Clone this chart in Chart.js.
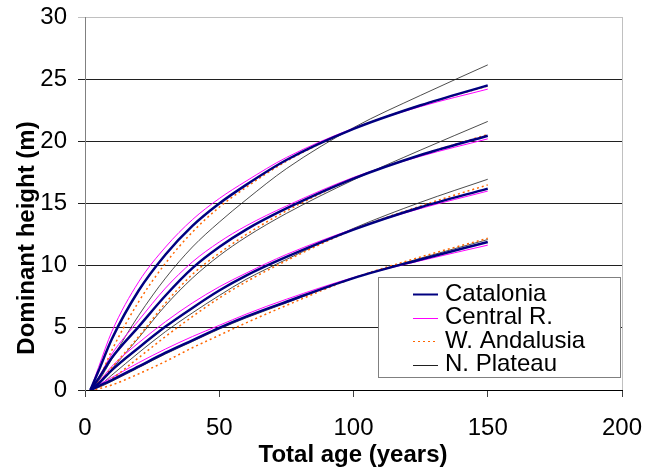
<!DOCTYPE html>
<html>
<head>
<meta charset="utf-8">
<script src="https://cdn.jsdelivr.net/npm/chart.js@4.4.1/dist/chart.umd.min.js"></script>
<style>
  html, body { margin: 0; padding: 0; background: #fff; }
</style>
</head>
<body>
<canvas id="chart" width="655" height="467"></canvas>
<script>
// Data (dominant height in m, by total age in years)
const ages = [2, 5, 10, 20, 30, 40, 50, 60, 75, 100, 125, 150];
const models = ['Catalonia', 'Central R.', 'W. Andalusia', 'N. Plateau'];

// one curve per site class, best to worst
const catalonia = [
    [0, 1.5, 4.1, 8.0, 10.9, 13.2, 15.0, 16.5, 18.5, 21.0, 22.9, 24.5],
    [0, 0.9, 2.6, 5.1, 7.6, 9.8, 11.5, 12.9, 14.6, 17.0, 18.9, 20.45],
    [0, 0.5, 1.6, 3.4, 5.1, 6.6, 8.0, 9.2, 10.7, 12.9, 14.7, 16.2],
    [0, 0.3, 0.8, 1.9, 3.0, 4.0, 5.0, 5.9, 7.1, 9.0, 10.5, 11.9]
];
const centralR = [
    [0, 1.8, 4.7, 8.7, 11.5, 13.7, 15.4, 16.8, 18.7, 21.05, 22.8, 24.2],
    [0, 1.0, 2.9, 5.6, 8.2, 10.3, 11.9, 13.2, 14.8, 17.1, 18.8, 20.2],
    [0, 0.6, 1.9, 3.8, 5.5, 7.0, 8.3, 9.4, 10.9, 12.95, 14.6, 16.0],
    [0, 0.4, 1.0, 2.2, 3.3, 4.3, 5.2, 6.1, 7.3, 9.05, 10.4, 11.65]
];
const wAndalusia = [
    [0, 0.8, 3.2, 7.1, 10.2, 12.7, 14.7, 16.3, 18.4, 21.0, 22.9, 24.45],
    [0, 0.5, 1.8, 4.3, 7.0, 9.3, 11.0, 12.5, 14.4, 17.0, 18.9, 20.55],
    [0, 0.2, 0.9, 2.6, 4.3, 5.9, 7.4, 8.7, 10.4, 12.9, 14.8, 16.5],
    [0, 0.1, 0.4, 1.3, 2.3, 3.4, 4.4, 5.4, 6.8, 9.0, 10.7, 12.2]
];
const nPlateau = [
    [0, 0.7, 2.5, 6.0, 9.0, 11.5, 13.5, 15.3, 17.8, 21.1, 23.7, 26.15],
    [0, 0.5, 1.7, 4.2, 6.8, 9.0, 10.8, 12.3, 14.2, 16.9, 19.3, 21.6],
    [0, 0.3, 1.2, 3.0, 4.7, 6.2, 7.6, 8.9, 10.5, 13.0, 15.1, 16.95],
    [0, 0.2, 0.7, 1.8, 2.9, 3.9, 4.9, 5.8, 7.0, 9.0, 10.6, 12.1]
];

const FONT = "'Liberation Sans', Arial, sans-serif";

// line look per model
const styles = [
    { color: '#000080', width: 2.5, dash: [], order: 0 },
    { color: '#ff00ff', width: 1, dash: [], order: 2 },
    { color: '#ff6600', width: 1.5, dash: [2, 3], order: 1 },
    { color: '#202020', width: 0.8, dash: [], order: 3 }
];

const curves = [catalonia, centralR, wAndalusia, nPlateau];
const datasets = [];
curves.forEach((family, m) => {
    family.forEach(heights => {
        datasets.push({
            label: models[m],
            data: ages.map((a, i) => ({ x: a, y: heights[i] })),
            borderColor: styles[m].color,
            borderWidth: styles[m].width,
            borderDash: styles[m].dash,
            order: styles[m].order,
            pointRadius: 0,
            fill: false,
            cubicInterpolationMode: 'monotone'
        });
    });
});

// axis titles + legend box drawn by hand so they sit where the original has them
const extras = {
    id: 'extras',
    afterDraw(chart) {
        const ctx = chart.ctx;
        ctx.save();
        ctx.fillStyle = '#000';
        ctx.font = 'bold 24px ' + FONT;
        ctx.textAlign = 'center';
        ctx.textBaseline = 'middle';
        ctx.fillText('Total age (years)', 353, 455);

        ctx.save();
        ctx.translate(27, 238);
        ctx.rotate(-Math.PI / 2);
        ctx.fillText('Dominant height (m)', 0, 0);
        ctx.restore();

        // legend
        const lx = 378.5, ly = 277.5, lw = 242, lh = 100;
        ctx.fillStyle = '#fff';
        ctx.fillRect(lx, ly, lw, lh);
        ctx.strokeStyle = '#808080';
        ctx.lineWidth = 1;
        ctx.strokeRect(lx, ly, lw, lh);

        ctx.font = '24px ' + FONT;
        ctx.textAlign = 'left';
        models.forEach((name, i) => {
            const y = 294 + i * 23.5;
            const ly2 = Math.round(y) + 0.5;
            ctx.beginPath();
            ctx.strokeStyle = styles[i].color;
            ctx.lineWidth = i === 0 ? 2 : 1;
            ctx.setLineDash(styles[i].dash);
            ctx.moveTo(413, ly2);
            ctx.lineTo(438, ly2);
            ctx.stroke();
            ctx.setLineDash([]);
            ctx.fillStyle = '#000';
            ctx.fillText(name, 445, y);
        });
        ctx.restore();
    }
};

new Chart(document.getElementById('chart'), {
    type: 'line',
    data: { datasets },
    options: {
        responsive: false,
        animation: false,
        layout: { padding: { top: 17, right: 33, left: 0, bottom: 0 } },
        plugins: {
            legend: { display: false },
            tooltip: { enabled: false }
        },
        scales: {
            x: {
                type: 'linear',
                min: 0,
                max: 200,
                afterFit: s => {
                    s.height = 77;
                    s.paddingLeft = 0;
                    s.paddingRight = 0;
                },
                ticks: {
                    stepSize: 50,
                    color: '#000',
                    padding: 17,
                    maxRotation: 0,
                    font: { family: FONT, size: 24 }
                },
                grid: {
                    color: c => c.tick && c.tick.value === 200 ? '#c0c0c0' : 'rgba(0,0,0,0)',
                    tickColor: '#404040',
                    tickLength: 7
                },
                border: { color: '#000', width: 1 }
            },
            y: {
                min: 0,
                max: 30,
                afterFit: s => {
                    s.width = 85;
                    s.paddingTop = 0;
                    s.paddingBottom = 0;
                },
                ticks: {
                    stepSize: 5,
                    color: '#000',
                    padding: 11,
                    font: { family: FONT, size: 24 }
                },
                grid: {
                    color: c => c.tick && c.tick.value === 30 ? '#c0c0c0' : '#202020',
                    tickLength: 7
                },
                border: { color: '#808080', width: 1 }
            }
        }
    },
    plugins: [extras]
});
</script>
</body>
</html>
